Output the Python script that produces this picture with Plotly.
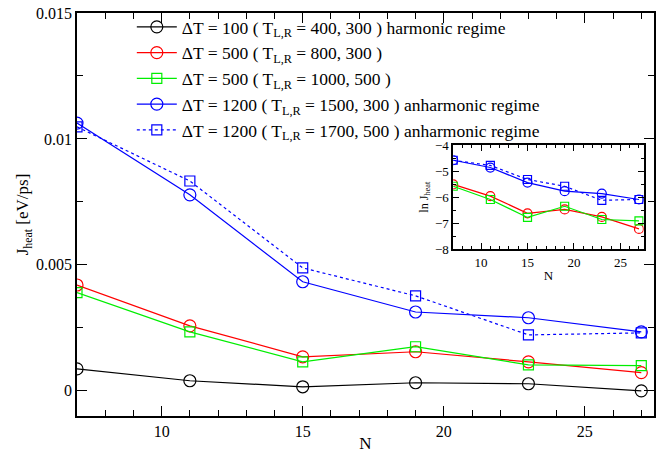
import plotly.graph_objects as go

N = [7, 11, 15, 19, 23, 27]

# main panel: J_heat [eV/ps]
j_dt100 = [0.00087, 0.00040, 0.00016, 0.00032, 0.00028, 0.0]
j_dt500a = [0.00420, 0.00258, 0.00135, 0.00155, 0.00115, 0.00072]
j_dt500b = [0.00390, 0.00234, 0.00115, 0.00175, 0.00103, 0.00100]
j_dt1200a = [0.01063, 0.00778, 0.00433, 0.00313, 0.00290, 0.00234]
j_dt1200b = [0.01048, 0.00833, 0.00488, 0.00377, 0.00222, 0.00230]

# inset: ln J_heat
ln_dt500a = [-5.51, -5.96, -6.62, -6.47, -6.76, -7.22]
ln_dt500b = [-5.58, -6.09, -6.78, -6.35, -6.86, -6.91]
ln_dt1200a = [-4.58, -4.86, -5.44, -5.77, -5.86, -6.09]
ln_dt1200b = [-4.58, -4.78, -5.32, -5.58, -6.12, -6.09]

names = [
    "ΔT = 100 ( T<sub>L,R</sub> = 400, 300 ) harmonic regime",
    "ΔT = 500 ( T<sub>L,R</sub> = 800, 300 )",
    "ΔT = 500 ( T<sub>L,R</sub> = 1000, 500 )",
    "ΔT = 1200 ( T<sub>L,R</sub> = 1500, 300 ) anharmonic regime",
    "ΔT = 1200 ( T<sub>L,R</sub> = 1700, 500 ) anharmonic regime",
]
colors = ["#000000", "#ff0000", "#00ee00", "#0000ff", "#0000ff"]
symbols = ["circle-open", "circle-open", "square-open", "circle-open", "square-open"]
dashes = ["solid", "solid", "solid", "solid", "dot"]
main_sizes = [12, 12, 10, 12, 10]
inset_sizes = [9, 9, 8, 9, 8]

FONT = "Liberation Serif"

fig = go.Figure()
main_series = [j_dt100, j_dt500a, j_dt500b, j_dt1200a, j_dt1200b]
for i, ys in enumerate(main_series):
    fig.add_trace(go.Scatter(
        x=N, y=ys, name=names[i], mode="lines+markers",
        legendgroup="g%d" % i,
        line=dict(color=colors[i], width=1.2, dash=dashes[i]),
        marker=dict(symbol=symbols[i], size=main_sizes[i], color=colors[i],
                    line=dict(width=1.2, color=colors[i])),
        xaxis="x", yaxis="y",
    ))

inset_series = [None, ln_dt500a, ln_dt500b, ln_dt1200a, ln_dt1200b]
for i, ys in enumerate(inset_series):
    if ys is None:
        continue
    fig.add_trace(go.Scatter(
        x=N, y=ys, mode="lines+markers", showlegend=False,
        line=dict(color=colors[i], width=1.2, dash=dashes[i]),
        marker=dict(symbol=symbols[i], size=inset_sizes[i], color=colors[i],
                    line=dict(width=1.2, color=colors[i])),
        xaxis="x2", yaxis="y2",
    ))

axis_common = dict(
    showline=True, linecolor="black", linewidth=1.5, mirror="allticks",
    ticks="inside", tickcolor="black", showgrid=False, zeroline=False,
    automargin=False,
)

fig.update_layout(
    width=662, height=453,
    margin=dict(l=77, r=8, t=13, b=37),
    paper_bgcolor="white", plot_bgcolor="white",
    font=dict(family=FONT, color="black", size=15),
    showlegend=True,
    legend=dict(
        x=0.095, y=1.01, xanchor="left", yanchor="top",
        bgcolor="rgba(0,0,0,0)", borderwidth=0,
        font=dict(family=FONT, size=17.5),
        itemwidth=40, tracegroupgap=0,
    ),
    xaxis=dict(
        **axis_common, range=[7, 27.45], dtick=5, tick0=0, ticklen=10,
        tickwidth=1.2,
        minor=dict(dtick=1, ticklen=6, ticks="inside", tickcolor="black", tickwidth=1.2),
        title=dict(text="N", font=dict(family=FONT, size=17), standoff=0),
        tickfont=dict(family=FONT, size=16),
    ),
    yaxis=dict(
        **axis_common, range=[-0.001, 0.015], dtick=0.005, tick0=0, ticklen=10,
        tickwidth=1.2,
        minor=dict(dtick=0.0025, ticklen=6, ticks="inside", tickcolor="black", tickwidth=1.2),
        title=dict(text="J<sub>heat</sub> [eV/ps]", font=dict(family=FONT, size=17), standoff=3),
        tickfont=dict(family=FONT, size=16),
    ),
    xaxis2=dict(
        **axis_common, domain=[0.652, 0.982], anchor="y2", range=[7, 27.5],
        dtick=5, tick0=0, ticklen=6, tickwidth=1,
        minor=dict(dtick=1, ticklen=3, ticks="inside", tickcolor="black", tickwidth=1),
        title=dict(text="N", font=dict(family=FONT, size=13), standoff=2),
        tickfont=dict(family=FONT, size=13),
    ),
    yaxis2=dict(
        **axis_common, domain=[0.414, 0.672], anchor="x2", range=[-8, -4],
        dtick=1, ticklen=6, tickwidth=1,
        minor=dict(dtick=0.5, ticklen=3, ticks="inside", tickcolor="black", tickwidth=1),
        title=dict(text="ln J<sub>heat</sub>", font=dict(family=FONT, size=12), standoff=4),
        tickfont=dict(family=FONT, size=13),
    ),
)

fig.write_html(
    "out.html",
    config={"displayModeBar": False},
    post_script="document.body.style.margin='0';document.body.style.overflow='hidden';",
)
